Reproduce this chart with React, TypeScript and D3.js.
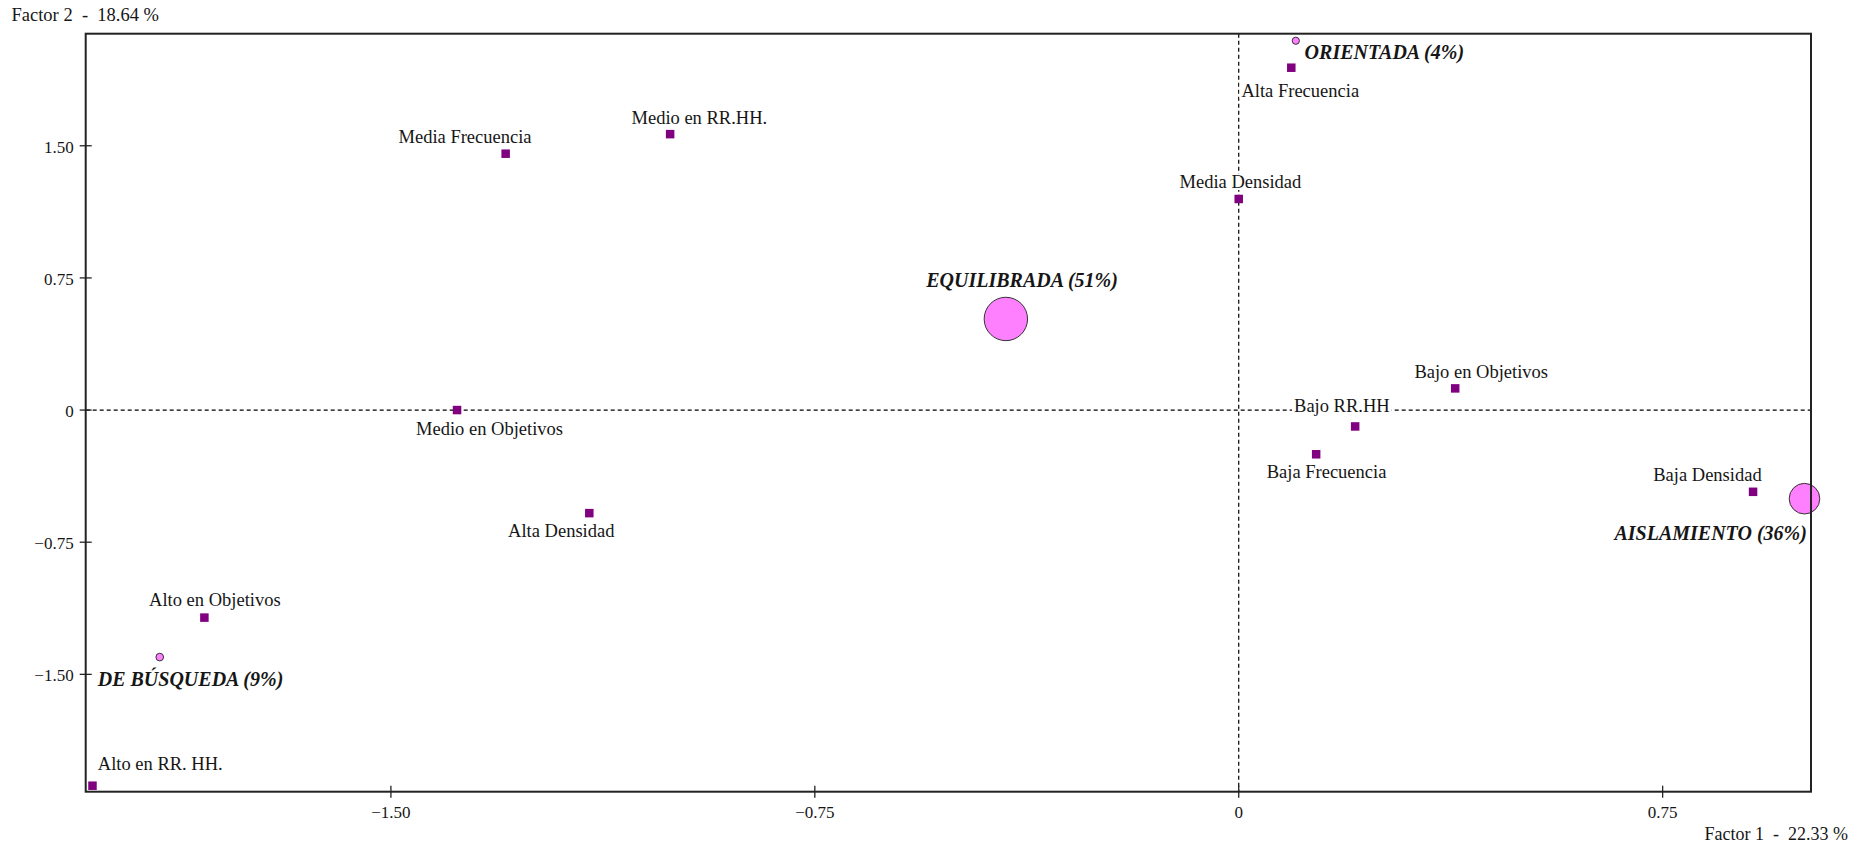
import React, { useEffect, useRef } from "react";
import * as d3 from "d3";

const WIDTH = 1870;
const HEIGHT = 846;

// ---- data ----
const factor1Title = "Factor 1  -  22.33 %";
const factor2Title = "Factor 2  -  18.64 %";

const xTickValues = [-1.5, -0.75, 0, 0.75];
const yTickValues = [1.5, 0.75, 0, -0.75, -1.5];

const modalityNames = [
  "Alto en RR. HH.",
  "Alto en Objetivos",
  "Medio en Objetivos",
  "Alta Densidad",
  "Media Frecuencia",
  "Medio en RR.HH.",
  "Media Densidad",
  "Alta Frecuencia",
  "Baja Densidad",
  "Bajo en Objetivos",
  "Bajo RR.HH",
  "Baja Frecuencia",
];
const modalityF1 = [-2.028, -1.83, -1.383, -1.149, -1.297, -1.006, 0.0, 0.093, 0.91, 0.383, 0.206, 0.137];
const modalityF2 = [-2.132, -1.178, 0.0, -0.585, 1.455, 1.566, 1.198, 1.943, -0.464, 0.123, -0.093, -0.251];

const clusterNames = ["DE BÚSQUEDA", "EQUILIBRADA", "ORIENTADA", "AISLAMIENTO"];
const clusterPct = [9, 51, 4, 36];
const clusterF1 = [-1.909, -0.412, 0.101, 1.001];
const clusterF2 = [-1.402, 0.517, 2.096, -0.503];

// ---- layout (label placement relative to marker) ----
type Place = { anchor: string; dx: number; dy: number };
const modalityLabelPlace: Place[] = [
  { anchor: "start", dx: 5.3, dy: -16 },
  { anchor: "middle", dx: 10.5, dy: -11.5 },
  { anchor: "middle", dx: 32.5, dy: 25 },
  { anchor: "middle", dx: -28, dy: 23.7 },
  { anchor: "middle", dx: -40.6, dy: -10.4 },
  { anchor: "middle", dx: 29.2, dy: -10 },
  { anchor: "middle", dx: 1.7, dy: -11 },
  { anchor: "middle", dx: 9, dy: 29 },
  { anchor: "middle", dx: -45.6, dy: -11 },
  { anchor: "middle", dx: 26, dy: -10.6 },
  { anchor: "middle", dx: -13.3, dy: -14 },
  { anchor: "middle", dx: 10.4, dy: 23.4 },
];
const clusterLabelPlace: Place[] = [
  { anchor: "start", dx: -62, dy: 29 },
  { anchor: "middle", dx: 16.2, dy: -32.3 },
  { anchor: "start", dx: 8.8, dy: 18.6 },
  { anchor: "end", dx: 2.4, dy: 41.3 },
];

const FRAME = { left: 85.7, right: 1811, top: 33.7, bottom: 791.7 };
const FONT = "'Liberation Serif', 'Times New Roman', serif";

export default function App() {
  const ref = useRef<SVGSVGElement | null>(null);

  useEffect(() => {
    const svg = d3.select(ref.current);
    svg.selectAll("*").remove();

    const x = d3.scaleLinear().domain([-2.04, 1.0125]).range([FRAME.left, FRAME.right]);
    const y = d3.scaleLinear().domain([-2.166, 2.136]).range([FRAME.bottom, FRAME.top]);
    const r = d3.scaleLinear().domain([0, 51]).range([0, 21.7]);

    svg.append("rect").attr("width", WIDTH).attr("height", HEIGHT).attr("fill", "#ffffff");

    // dashed zero lines
    svg
      .append("line")
      .attr("x1", x(0))
      .attr("x2", x(0))
      .attr("y1", FRAME.top)
      .attr("y2", FRAME.bottom)
      .attr("stroke", "#000")
      .attr("stroke-width", 1.2)
      .attr("stroke-dasharray", "4,3");
    svg
      .append("line")
      .attr("x1", FRAME.left)
      .attr("x2", FRAME.right)
      .attr("y1", y(0))
      .attr("y2", y(0))
      .attr("stroke", "#000")
      .attr("stroke-width", 1.2)
      .attr("stroke-dasharray", "4,3");

    const addLabel = (
      g: any,
      text: string,
      px: number,
      py: number,
      place: Place,
      bold: boolean
    ) => {
      const t = g
        .append("text")
        .attr("x", px + place.dx)
        .attr("y", py + place.dy)
        .attr("text-anchor", place.anchor)
        .attr("font-family", FONT)
        .attr("font-size", bold ? 20 : 18.5)
        .attr("font-weight", bold ? "bold" : "normal")
        .attr("font-style", bold ? "italic" : "normal")
        .attr("fill", "#161616")
        .text(text);
      const bb = (t.node() as SVGTextElement).getBBox();
      g.insert("rect", () => t.node())
        .attr("x", bb.x - 2)
        .attr("y", bb.y + 2)
        .attr("width", bb.width + 4)
        .attr("height", bb.height - 4)
        .attr("fill", "#ffffff");
    };

    const labels = svg.append("g");
    modalityNames.forEach((name, i) => {
      addLabel(labels.append("g"), name, x(modalityF1[i]), y(modalityF2[i]), modalityLabelPlace[i], false);
    });
    clusterNames.forEach((name, i) => {
      addLabel(
        labels.append("g"),
        `${name} (${clusterPct[i]}%)`,
        x(clusterF1[i]),
        y(clusterF2[i]),
        clusterLabelPlace[i],
        true
      );
    });

    // modality markers
    const S = 8.5;
    svg
      .append("g")
      .selectAll("rect")
      .data(modalityNames.map((_, i) => i))
      .join("rect")
      .attr("x", (i: number) => x(modalityF1[i]) - S / 2)
      .attr("y", (i: number) => y(modalityF2[i]) - S / 2)
      .attr("width", S)
      .attr("height", S)
      .attr("fill", "#800080");

    // cluster circles
    svg
      .append("g")
      .selectAll("circle")
      .data(clusterNames.map((_, i) => i))
      .join("circle")
      .attr("cx", (i: number) => x(clusterF1[i]))
      .attr("cy", (i: number) => y(clusterF2[i]))
      .attr("r", (i: number) => Math.max(3.6, r(clusterPct[i])))
      .attr("fill", "#ff80ff")
      .attr("stroke", "#333")
      .attr("stroke-width", 1);

    // frame
    svg
      .append("rect")
      .attr("x", FRAME.left)
      .attr("y", FRAME.top)
      .attr("width", FRAME.right - FRAME.left)
      .attr("height", FRAME.bottom - FRAME.top)
      .attr("fill", "none")
      .attr("stroke", "#222")
      .attr("stroke-width", 2);

    const fmt = (d: number) => (d === 0 ? "0" : d3.format(".2f")(d));

    // x ticks
    const xt = svg.append("g");
    xTickValues.forEach((v) => {
      xt.append("line")
        .attr("x1", x(v))
        .attr("x2", x(v))
        .attr("y1", FRAME.bottom - 6)
        .attr("y2", FRAME.bottom + 6)
        .attr("stroke", "#222")
        .attr("stroke-width", 1.3);
      xt.append("text")
        .attr("x", x(v))
        .attr("y", FRAME.bottom + 26.5)
        .attr("text-anchor", "middle")
        .attr("font-family", FONT)
        .attr("font-size", 17)
        .attr("fill", "#161616")
        .text(fmt(v));
    });

    // y ticks
    const yt = svg.append("g");
    yTickValues.forEach((v) => {
      yt.append("line")
        .attr("x1", FRAME.left - 6)
        .attr("x2", FRAME.left + 6)
        .attr("y1", y(v))
        .attr("y2", y(v))
        .attr("stroke", "#222")
        .attr("stroke-width", 1.3);
      yt.append("text")
        .attr("x", FRAME.left - 12)
        .attr("y", y(v) + 7)
        .attr("text-anchor", "end")
        .attr("font-family", FONT)
        .attr("font-size", 17)
        .attr("fill", "#161616")
        .text(fmt(v));
    });

    // axis titles
    svg
      .append("text")
      .attr("x", 1848)
      .attr("y", 840)
      .attr("text-anchor", "end")
      .attr("font-family", FONT)
      .attr("font-size", 18)
      .attr("fill", "#161616")
      .style("white-space", "pre")
      .text(factor1Title);
    svg
      .append("text")
      .attr("x", 11.5)
      .attr("y", 20.7)
      .attr("text-anchor", "start")
      .attr("font-family", FONT)
      .attr("font-size", 18.5)
      .attr("fill", "#161616")
      .style("white-space", "pre")
      .text(factor2Title);
  }, []);

  return (
    <svg
      ref={ref}
      width={WIDTH}
      height={HEIGHT}
      style={{ position: "absolute", left: 0, top: 0, display: "block" }}
    />
  );
}
